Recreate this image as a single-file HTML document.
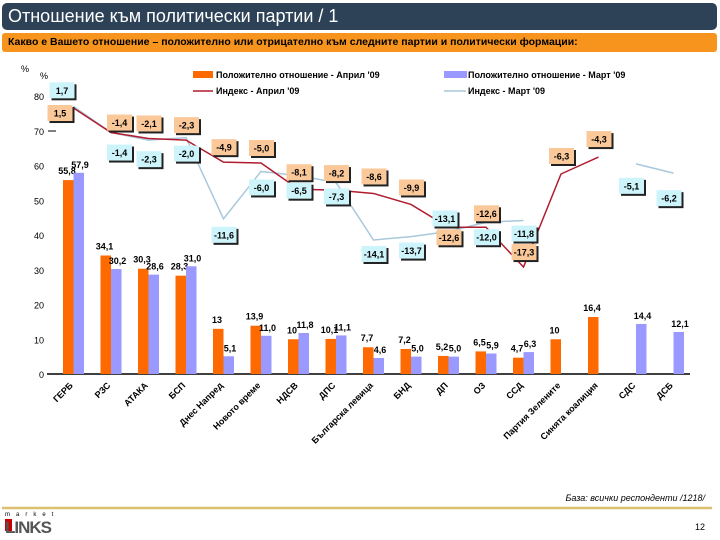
<!DOCTYPE html>
<html><head><meta charset="utf-8"><style>
body{margin:0;width:720px;height:540px;background:#fff;font-family:"Liberation Sans",sans-serif;position:relative;overflow:hidden}
.hdr{position:absolute;left:2px;top:3px;width:715px;height:27px;background:#2d4257;border-radius:5px;color:#fff;font-size:18px;line-height:27px;padding-left:6px;box-sizing:border-box}
.sub{position:absolute;left:2px;top:33px;width:715px;height:19px;background:#f7941d;border-radius:3px;font-size:10.5px;font-weight:bold;line-height:19px;padding-left:6px;box-sizing:border-box}
</style></head><body>
<div class="hdr">Отношение към политически партии / 1</div>
<div class="sub">Какво е Вашето отношение – положително или отрицателно към следните партии и политически формации:</div>
<svg id="chart" width="720" height="540" style="position:absolute;left:0;top:0" font-family="Liberation Sans, sans-serif"></svg>
<script>
const categories=["ГЕРБ","РЗС","АТАКА","БСП","Днес Напред","Новото време","НДСВ","ДПС","Българска левица","БНД","ДП","ОЗ","ССД","Партия Зелените","Синята коалиция","СДС","ДСБ"];
const aprilValues=[55.8,34.1,30.3,28.3,13,13.9,10,10.1,7.7,7.2,5.2,6.5,4.7,10,16.4,null,null];
const marchValues=[57.9,30.2,28.6,31.0,5.1,11.0,11.8,11.1,4.6,5.0,5.0,5.9,6.3,null,null,14.4,12.1];
const aprilLabels=["55,8","34,1","30,3","28,3","13","13,9","10","10,1","7,7","7,2","5,2","6,5","4,7","10","16,4","",""];
const marchLabels=["57,9","30,2","28,6","31,0","5,1","11,0","11,8","11,1","4,6","5,0","5,0","5,9","6,3","","","14,4","12,1"];
const aprilIndex=[1.5,-1.4,-2.1,-2.3,-4.9,-5.0,-8.1,-8.2,-8.6,-9.9,-12.6,-12.6,-17.3,-6.3,-4.3,null,null];
const marchIndex=[1.7,-1.4,-2.3,-2.0,-11.6,-6.0,-6.5,-7.3,-14.1,-13.7,-13.1,-12.0,-11.8,null,null,-5.1,-6.2];
const yTicks=[0,10,20,30,40,50,60,70,80];
// label box offsets (layout, not data)
const aprilBoxOff=[[-14,5],[8,-10],[0,-15],[0,-15],[0,-15],[0,-15],[0,-17],[0,-17],[0,-17],[0,-17],[0,10],[0,-14],[0,-15],[0,-18],[0,-18]];
const marchBoxOff=[[-12,-16],[8,20],[0,19],[0,16],[0,16],[0,16],[0,15],[0,14],[0,14],[0,14],[-4,-13],[0,15],[0,13],[0,0],[0,0],[-5,22],[-5,25]];
const svg=document.getElementById('chart');const NS='http://www.w3.org/2000/svg';
function mk(t,a,p){const e=document.createElementNS(NS,t);for(const k in a)e.setAttribute(k,a[k]);(p||svg).appendChild(e);return e;}
const xL=i=>63+37.5*i, xC=i=>xL(i)+10.5, yB=v=>374-3.475*v, yI=v=>120.7-8.46*v;
let e;
yTicks.forEach(t=>{e=mk('text',{x:44,y:yB(t)+4,'text-anchor':'end','font-size':9});e.textContent=t;

});
e=mk('text',{x:21,y:72,'font-size':9});e.textContent='%';
e=mk('text',{x:40,y:79,'font-size':9});e.textContent='%';
e=mk('line',{x1:48,y1:131,x2:56,y2:131,stroke:'#000'});
e=mk('line',{x1:47,y1:374,x2:690,y2:374,stroke:'#000','stroke-width':1.5});


categories.forEach((c,i)=>{
 if(aprilValues[i]!=null){e=mk('rect',{x:xL(i),y:yB(aprilValues[i]),width:10.5,height:374-yB(aprilValues[i]),fill:'#ff6a00'});
 
 
 e=mk('text',{x:xL(i)+4,y:yB(aprilValues[i])-6,'text-anchor':'middle','font-size':9,'font-weight':'bold'});e.textContent=aprilLabels[i];}
 if(marchValues[i]!=null){e=mk('rect',{x:xL(i)+10.5,y:yB(marchValues[i]),width:10.5,height:374-yB(marchValues[i]),fill:'#9999ff'});
 
 
 e=mk('text',{x:xL(i)+17,y:yB(marchValues[i])-5,'text-anchor':'middle','font-size':9,'font-weight':'bold'});e.textContent=marchLabels[i];}
 const x=xC(i),y=386;
 e=mk('text',{x:x,y:y,'text-anchor':'end','font-size':9,'font-weight':'bold',transform:`rotate(-45 ${x} ${y})`});e.textContent=c;
 
 
});
function line(vals,col,w,name){let seg=[];const segs=[];vals.forEach((v,i)=>{if(v==null){if(seg.length)segs.push(seg);seg=[];}else seg.push(xC(i)+','+yI(v));});if(seg.length)segs.push(seg);
 segs.forEach(s=>{if(s.length>1){e=mk('polyline',{points:s.join(' '),fill:'none',stroke:col,'stroke-width':w});
 
 }});}
line(marchIndex,'#a8c8dc',1.5,'index-line-march');
line(aprilIndex,'#b01c2e',1.5,'index-line-april');
function box(vals,offs,fill,name){vals.forEach((v,i)=>{if(v==null)return;const o=offs[i]||[0,0];const cx=xC(i)+o[0],cy=yI(v)+o[1];
 mk('rect',{x:cx-12+2,y:cy-8+2,width:25,height:16,fill:'#222'});
 e=mk('rect',{x:cx-12,y:cy-8,width:25,height:16,fill:fill});
 
 
 e=mk('text',{x:cx+0.5,y:cy+3.5,'text-anchor':'middle','font-size':9,'font-weight':'bold'});e.textContent=v.toFixed(1).replace('.',',');});}
box(aprilIndex,aprilBoxOff,'#fbc89a','index-label-april');
box(marchIndex,marchBoxOff,'#cdf4fb','index-label-march');
// legend
e=mk('rect',{x:193,y:71,width:20,height:7,fill:'#ff6a00'});
e=mk('text',{x:216,y:78,'font-size':9,'font-weight':'bold'});e.textContent="Положително отношение - Април '09";
e=mk('line',{x1:193,y1:91,x2:213,y2:91,stroke:'#b01c2e','stroke-width':1.5});
e=mk('text',{x:216,y:94,'font-size':9,'font-weight':'bold'});e.textContent="Индекс - Април '09";
e=mk('rect',{x:444,y:71,width:23,height:7,fill:'#9999ff'});
e=mk('text',{x:468,y:78,'font-size':9,'font-weight':'bold'});e.textContent="Положително отношение - Март '09";
e=mk('line',{x1:444,y1:91,x2:466,y2:91,stroke:'#a8c8dc','stroke-width':1.5});
e=mk('text',{x:468,y:94,'font-size':9,'font-weight':'bold'});e.textContent="Индекс - Март '09";
// footer
e=mk('text',{x:705,y:501,'text-anchor':'end','font-size':9,'font-style':'italic'});e.textContent='База: всички респонденти /1218/';

mk('line',{x1:2,y1:508,x2:712,y2:508,stroke:'#dcc070','stroke-width':2.5});
e=mk('text',{x:5,y:516,'font-size':6,'letter-spacing':'6'});e.textContent='market';
mk('rect',{x:5,y:519,width:7,height:12,fill:'#c00'});
e=mk('text',{x:5,y:533,'font-size':17,'font-weight':'bold',fill:'#555','letter-spacing':'-1'});e.textContent='LINKS';

e=mk('text',{x:705,y:530,'text-anchor':'end','font-size':9});e.textContent='12';

</script>
</body></html>
